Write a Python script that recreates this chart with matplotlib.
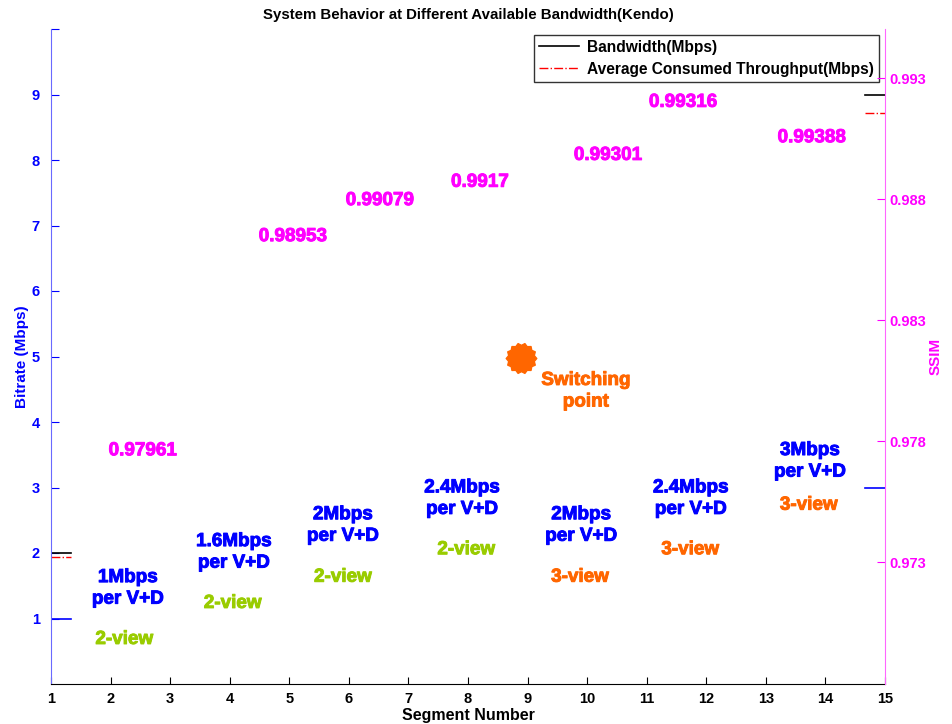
import matplotlib
matplotlib.use("Agg")
import matplotlib.pyplot as plt
import matplotlib.patheffects as pe
import numpy as np
from matplotlib.path import Path

plt.rcParams['font.family'] = ['Liberation Sans', 'DejaVu Sans']
plt.rcParams['font.weight'] = 'bold'

# ---- data ----
segments = list(range(1, 16))
bitrate_ticks = list(range(1, 10))
ssim_ticks = [0.973, 0.978, 0.983, 0.988, 0.993]

ssim_values = ["0.97961", "0.98953", "0.99079", "0.9917", "0.99301", "0.99316", "0.99388"]
ssim_x = [2.54, 5.06, 6.52, 8.20, 10.35, 11.61, 13.77]
ssim_y = [3.56, 6.83, 7.38, 7.66, 8.07, 8.88, 8.34]

rate_labels = ["1Mbps", "1.6Mbps", "2Mbps", "2.4Mbps", "2Mbps", "2.4Mbps", "3Mbps"]
rate_x = [2.29, 4.07, 5.90, 7.90, 9.90, 11.74, 13.74]
rate_y = [1.46, 2.01, 2.42, 2.83, 2.42, 2.83, 3.40]

view_labels = ["2-view", "2-view", "2-view", "2-view", "3-view", "3-view", "3-view"]
view_x = [2.23, 4.05, 5.90, 7.97, 9.88, 11.73, 13.72]
view_y = [0.68, 1.23, 1.63, 2.05, 1.63, 2.05, 2.73]

switch_x, switch_y = 8.89, 4.98
switch_text_x, switch_text_y = 9.98, 4.47

# visible line segments (start / end of experiment)
seg_left_x = [1.0, 1.33]
seg_right_x = [14.66, 15.0]
bandwidth_left, bandwidth_right = 2.0, 9.0
throughput_left, throughput_right = 1.94, 8.71
rate_left, rate_right = 1.0, 3.0

GREEN = '#99cc00'
ORANGE = '#ff6600'
MAG = '#ff00ff'
BLUE = '#0000ff'

def bold_fx(c):
    return [pe.withStroke(linewidth=0.7, foreground=c)]

fig = plt.figure(figsize=(9.52, 7.24), dpi=100)
ax = fig.add_axes([51/952, 1-684/724, (885-51)/952, (684-29)/724])

ax.plot(seg_left_x, [bandwidth_left]*2, color='black', lw=1.2, label='Bandwidth(Mbps)')
ax.plot(seg_left_x, [throughput_left]*2, color='red', lw=1.0, ls='-.', label='Average Consumed Throughput(Mbps)')
ax.plot(seg_left_x, [rate_left]*2, color=BLUE, lw=1.2)
ax.plot(seg_right_x, [bandwidth_right]*2, color='black', lw=1.2)
ax.plot(seg_right_x, [throughput_right]*2, color='red', lw=1.0, ls='-.')
ax.plot(seg_right_x, [rate_right]*2, color=BLUE, lw=1.2)

ax.set_xlim(1, 15)
ax.set_ylim(0, 10)
ax.set_xticks(segments)
ax.set_yticks(bitrate_ticks + [10])
ax.set_yticklabels([str(t) for t in bitrate_ticks] + [''])
ax.tick_params(axis='x', direction='in', length=5, labelsize=10.5, colors='black', pad=6)
ax.tick_params(axis='y', direction='in', length=6, labelsize=10.5, colors=BLUE, pad=8)
ax.spines['top'].set_visible(False)
ax.spines['right'].set_visible(False)
ax.spines['left'].set_color('#6a6aff')
ax.spines['bottom'].set_color('black')
ax.set_xlabel('Segment Number', fontsize=11.5, fontweight='bold', labelpad=1)
ax.set_ylabel('Bitrate (Mbps)', fontsize=11, fontweight='bold', color=BLUE, labelpad=2)
ax.set_title('System Behavior at Different Available Bandwidth(Kendo)', fontsize=10.8, fontweight='bold', pad=7)

# annotations
for t, x, y in zip(ssim_values, ssim_x, ssim_y):
    ax.text(x, y, t, color=MAG, fontsize=13.6, fontweight='bold', ha='center', va='center',
            path_effects=bold_fx(MAG))
for t, x, y in zip(rate_labels, rate_x, rate_y):
    ax.text(x, y, t + "\nper V+D", color=BLUE, fontsize=13.6, fontweight='bold', ha='center', va='center',
            linespacing=1.35, path_effects=bold_fx(BLUE))
for t, x, y in zip(view_labels, view_x, view_y):
    c = GREEN if t.startswith('2') else ORANGE
    ax.text(x, y, t, color=c, fontsize=13.6, fontweight='bold', ha='center', va='center',
            path_effects=bold_fx(c))

# switching point burst marker
n = 28
ang = np.linspace(0, 2*np.pi, n, endpoint=False)
rad = np.where(np.arange(n) % 2 == 0, 1.0, 0.86)
verts = np.column_stack([rad*np.cos(ang), rad*np.sin(ang)])
verts = np.vstack([verts, verts[0]])
codes = [Path.MOVETO] + [Path.LINETO]*(n-1) + [Path.CLOSEPOLY]
burst = Path(verts, codes)
ax.plot([switch_x], [switch_y], marker=burst, markersize=22, color=ORANGE, markeredgecolor=ORANGE, ls='none')
ax.text(switch_text_x, switch_text_y, "Switching\npoint", color=ORANGE, fontsize=13.6, fontweight='bold',
        ha='center', va='center', linespacing=1.35, path_effects=bold_fx(ORANGE))

leg = ax.legend(loc='upper right', frameon=True, fancybox=False, edgecolor='black',
                handlelength=2.6, borderpad=0.3, labelspacing=0.45, handletextpad=0.5,
                borderaxespad=0.4, prop={'weight': 'bold', 'size': 11.2})
leg.get_frame().set_linewidth(1.0)

# right axis (SSIM)
ax2 = ax.twinx()
ax2.set_ylim(0.96796, 0.995025)
ax2.set_yticks(ssim_ticks)
ax2.set_yticklabels([f"{t:.3f}" for t in ssim_ticks])
ax2.tick_params(axis='y', direction='in', length=6, labelsize=10.5, colors=MAG, pad=3)
for s in ['top', 'left', 'bottom']:
    ax2.spines[s].set_visible(False)
ax2.spines['right'].set_color('#ff66ff')
ax2.set_ylabel('SSIM', fontsize=11, fontweight='bold', color=MAG, rotation=90, labelpad=2)

fig.savefig('out.png', dpi=100)
